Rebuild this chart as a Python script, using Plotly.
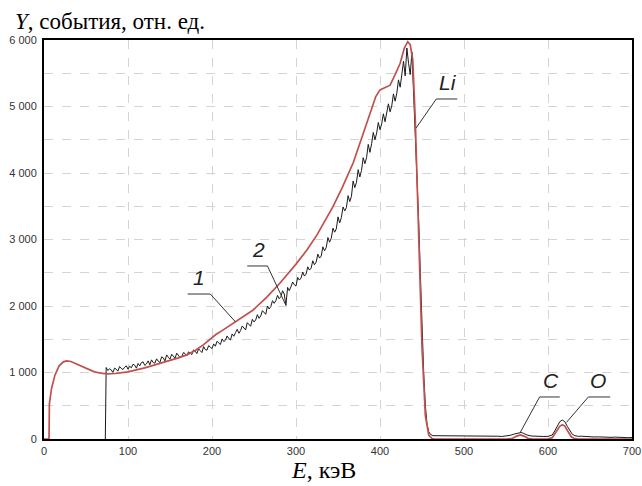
import plotly.graph_objects as go

# ---- data ----
# curve 1 (red, calculated)
red_e = [0, 6, 6.4, 9, 13, 18, 23, 27, 32, 40, 50, 60, 70, 75, 85, 100, 120, 140, 160, 170,
         180, 190, 198, 205, 212, 221, 235, 249, 265, 281, 300, 313, 325, 337, 344, 355, 368, 378,
         388, 395, 400, 406, 412, 418, 424, 429, 433, 436, 439, 442, 446, 450, 454, 458, 462,
         465, 550, 557, 562, 567, 572, 577, 582, 600, 605, 610, 614, 617, 620, 624, 628, 632,
         636, 700]
red_y = [0, 0, 530, 760, 960, 1100, 1160, 1175, 1165, 1120, 1060, 1010, 985, 980, 985, 1010,
         1070, 1140, 1220, 1265, 1330, 1420, 1510, 1575, 1630, 1705, 1815, 1940, 2130, 2346, 2630,
         2842, 3070, 3330, 3494, 3780, 4150, 4520, 4900, 5150, 5250, 5290, 5320, 5480, 5650,
         5880, 5975, 5930, 5700, 4800, 2917, 1377, 350, 60, 5, 0, 0, 5, 40, 62, 40, 5, 0, 0,
         20, 110, 190, 215, 195, 110, 30, 5, 0, 0]

# curve 2 (black, measured), 2 keV channels from 74 to 440 keV, then the falling edge and tail
black_rise_e = [73] + list(range(74, 441, 2))
black_rise_y = [0,
    1075, 1030, 1055, 1040, 1000, 1065, 1050, 1020, 1090, 1060,
    1045, 1080, 1100, 1050, 1095, 1070, 1125, 1110, 1065, 1135,
    1100, 1150, 1160, 1105, 1130, 1175, 1115, 1190, 1150, 1140,
    1205, 1170, 1150, 1235, 1220, 1175, 1265, 1230, 1200, 1275,
    1240, 1215, 1290, 1265, 1225, 1240, 1300, 1285, 1250, 1310,
    1290, 1270, 1340, 1320, 1285, 1355, 1330, 1300, 1390, 1345,
    1335, 1405, 1380, 1360, 1430, 1395, 1470, 1440, 1420, 1505,
    1465, 1485, 1550, 1510, 1490, 1580, 1545, 1600, 1650, 1590,
    1630, 1700, 1660, 1640, 1750, 1720, 1695, 1800, 1760, 1790,
    1870, 1815, 1850, 1930, 1900, 1875, 2000, 1955, 1990, 2080,
    2040, 2080, 2160, 2110, 2140, 2230, 2180, 2010, 2280, 2230,
    2290, 2360, 2320, 2300, 2430, 2390, 2420, 2510, 2450, 2480,
    2590, 2540, 2570, 2680, 2620, 2660, 2780, 2720, 2750, 2890,
    2830, 2880, 3030, 2960, 3020, 3170, 3110, 3160, 3340, 3250,
    3330, 3490, 3430, 3480, 3660, 3570, 3650, 3880, 3780, 3860,
    4050, 3940, 4040, 4230, 4140, 4230, 4430, 4310, 4440, 4610,
    4500, 4600, 4760, 4650, 4740, 4890, 4770, 4880, 5040, 4920,
    5010, 5190, 5080, 5200, 5400, 5290, 5450, 5680, 5460, 5880,
    5650, 5480, 5820, 5250]
black_tail_e = [442, 444, 446, 448, 450, 452, 454, 456, 458, 460, 463, 465, 470, 475, 480, 485,
                490, 495, 500, 505, 510, 515, 520, 525, 530, 535, 540, 545, 550, 555, 560, 565,
                568, 571, 575, 580, 585, 590, 595, 600, 605, 608, 611, 614, 617, 620, 623, 626,
                629, 632, 636, 640, 645, 650, 655, 660, 665, 670, 675, 680, 685, 690, 695, 700]
black_tail_y = [4650, 4000, 3300, 2500, 1700, 1000, 500, 220, 110, 70, 50, 50, 45, 50, 40, 48,
                42, 50, 45, 40, 48, 42, 45, 40, 46, 40, 42, 38, 45, 55, 75, 95, 98, 85, 60, 45,
                40, 42, 38, 40, 60, 120, 200, 260, 285, 260, 190, 120, 70, 50, 40, 42, 35, 38,
                30, 32, 28, 30, 25, 28, 22, 25, 20, 22]
black_e = black_rise_e + black_tail_e
black_y = black_rise_y + black_tail_y

x_ticks = [0, 100, 200, 300, 400, 500, 600, 700]
y_grid = list(range(0, 6001, 500))
y_labels = {0: "0", 1000: "1 000", 2000: "2 000", 3000: "3 000", 4000: "4 000",
            5000: "5 000", 6000: "6 000"}

# curve labels: text, text position (E, Y), underline (E0, E1, Y), leader end (E, Y)
labels = [
    ("1", 184, 2230, (171, 198, 2180), (228, 1760), "right"),
    ("2", 255, 2650, (242, 266, 2602), (288, 2010), "right"),
    ("Li", 481, 5160, (467, 492, 5113), (443, 4677), "left"),
    ("C", 604, 680, (590, 614, 632), (567, 100), "left"),
    ("O", 660, 680, (648, 674, 632), (622, 250), "left"),
]

fig = go.Figure()
fig.add_trace(go.Scatter(x=black_e, y=black_y, mode="lines",
                         line=dict(color="#1a1a1a", width=1), hoverinfo="skip"))
fig.add_trace(go.Scatter(x=red_e, y=red_y, mode="lines",
                         line=dict(color="#c0504d", width=1.7), hoverinfo="skip"))

for txt, tx, ty, (u0, u1, uy), (ex, ey), side in labels:
    fig.add_shape(type="line", x0=u0, x1=u1, y0=uy, y1=uy, xref="x", yref="y",
                  line=dict(color="#333333", width=1))
    sx = u1 if side == "right" else u0
    fig.add_shape(type="line", x0=sx, y0=uy, x1=ex, y1=ey,
                  xref="x", yref="y", line=dict(color="#333333", width=1))
    fig.add_annotation(x=tx, y=ty, xref="x", yref="y", text="<i>" + txt + "</i>",
                       showarrow=False, xanchor="center", yanchor="bottom",
                       font=dict(family="Liberation Sans", size=21, color="#222222"))

fig.add_annotation(xref="paper", yref="paper", x=-31 / 588, y=1 + 33 / 399,
                   xanchor="left", yanchor="top", showarrow=False,
                   text="<i>Y</i>, события, отн. ед.",
                   font=dict(family="Liberation Serif", size=23, color="black"))
fig.add_annotation(xref="paper", yref="paper", x=(323 - 44) / 588, y=-16 / 399,
                   xanchor="center", yanchor="top", showarrow=False,
                   text="<i>E</i>, кэВ",
                   font=dict(family="Liberation Serif", size=24, color="black"))

axis_common = dict(showgrid=True, gridcolor="#d4d4d4", griddash="dash", gridwidth=1,
                   zeroline=False, showline=True, linecolor="black", linewidth=2, mirror=True,
                   ticks="", automargin=False, ticklabeloverflow="allow",
                   tickfont=dict(family="Liberation Sans", size=11, color="#333333"))

fig.update_layout(
    width=642, height=486,
    margin=dict(l=44, r=10, t=40, b=47, autoexpand=False),
    paper_bgcolor="white", plot_bgcolor="white",
    showlegend=False,
    xaxis=dict(range=[0, 700], tickvals=x_ticks, ticktext=[str(v) for v in x_ticks],
               ticklabelstandoff=1, **axis_common),
    yaxis=dict(range=[0, 6000], tickvals=y_grid,
               ticktext=[y_labels.get(v, "") for v in y_grid],
               ticklabelstandoff=3, **axis_common),
)

# remove the default 8 px page margin so the figure fills the window exactly
fig.write_html("out.html",
               config={"displayModeBar": False},
               post_script="document.body.style.margin='0px';"
                           "document.body.style.overflow='hidden';")
